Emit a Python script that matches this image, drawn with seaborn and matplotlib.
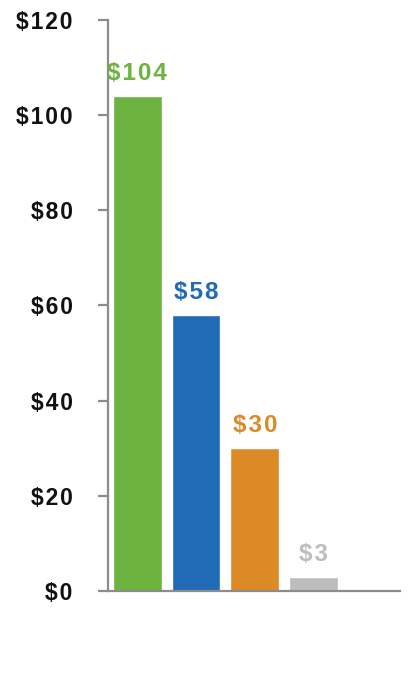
import matplotlib
matplotlib.use("Agg")
import matplotlib.pyplot as plt
import seaborn as sns
import pandas as pd

categories = ["A", "B", "C", "D"]
values = [104, 58, 30, 3]
colors = ["#6DB33F", "#1F6BB5", "#DC8A26", "#BDBDBD"]
label_texts = ["$104", "$58", "$30", "$3"]
y_ticks = [0, 20, 40, 60, 80, 100, 120]
y_tick_labels = ["$0", "$20", "$40", "$60", "$80", "$100", "$120"]

sns.set_theme(style="white")
plt.rcParams['font.family'] = ['Liberation Sans', 'DejaVu Sans']

HS = "\u200a"


def spaced(s):
    return HS.join(s)


df = pd.DataFrame({"cat": categories, "val": values})

fig = plt.figure(figsize=(4.2, 6.9), dpi=100)
ax = fig.add_axes([0.257, 0.1435, 0.695, 0.8275])
sns.barplot(data=df, x="cat", y="val", hue="cat", palette=colors, legend=False,
            width=0.83, saturation=1, ax=ax)

ax.set_xlim(-0.5, 4.47)
ax.set_ylim(0, 120)
ax.set_yticks(y_ticks)
ax.set_yticklabels([spaced(t) for t in y_tick_labels], fontsize=16.5,
                   fontweight="bold", color="#111111")
ax.set_xticks([])
ax.set_xlabel("")
ax.set_ylabel("")

for s in ["top", "right"]:
    ax.spines[s].set_visible(False)
for s in ["left", "bottom"]:
    ax.spines[s].set_color("#8C8C8C")
    ax.spines[s].set_linewidth(1.6)
ax.tick_params(axis="y", length=7.5, width=1.6, color="#8C8C8C", pad=18,
               direction="out", left=True)

for i, (v, t, c) in enumerate(zip(values, label_texts, colors)):
    ax.annotate(spaced(t), (i, v), xytext=(0, 11.5), textcoords="offset points",
                ha="center", va="baseline", fontsize=17.5, fontweight="bold", color=c)

fig.savefig("out.png", dpi=100)
